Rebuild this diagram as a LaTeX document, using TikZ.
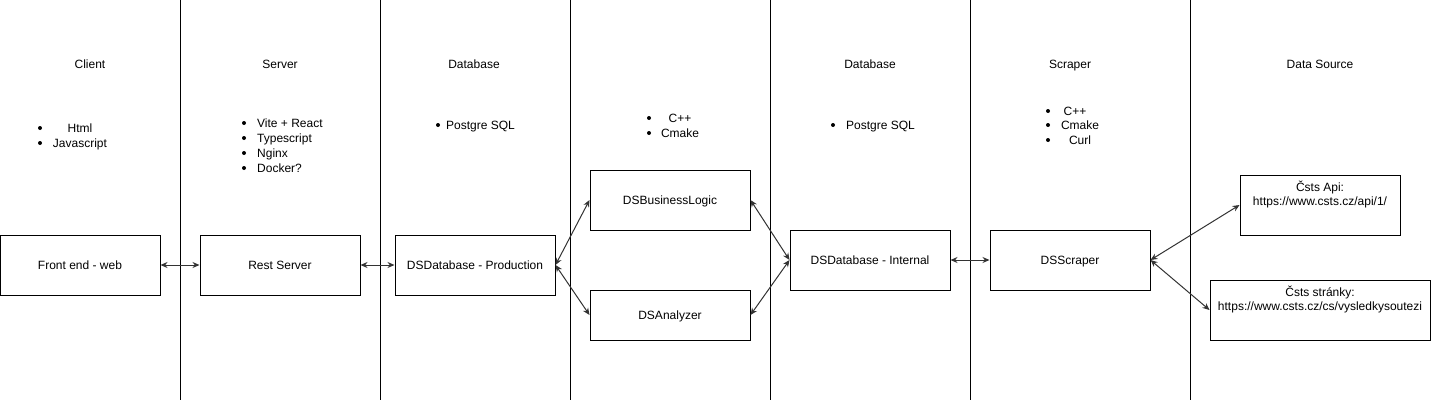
\documentclass[tikz,border=0pt]{standalone}
\usepackage{fontspec}
\setmainfont{Liberation Sans}
\usetikzlibrary{arrows.meta, positioning}
\definecolor{ds_line}{RGB}{51, 51, 51}

\tikzset{
  layer/.style={draw=black, line width=1pt, fill=white, minimum width=160pt,
                minimum height=60pt, inner sep=0pt, text height=8.6pt, text depth=0pt,
                font=\fontsize{12}{14}\selectfont},
  lane/.style={draw=black, line width=1pt},
  title/.style={font=\fontsize{12}{14}\selectfont, anchor=base, inner sep=0pt},
  tech/.style={font=\fontsize{12}{14}\selectfont, anchor=base, inner sep=0pt},
  techleft/.style={tech, anchor=base west},
  dot/.style={circle, fill=black, inner sep=0pt, minimum size=4pt},
  link/.style={{Stealth[length=7pt,width=6pt]}-{Stealth[length=7pt,width=6pt]},
               draw=ds_line, line width=1pt}
}

\begin{document}
\begin{tikzpicture}[x=1pt, y=-1pt]
  \useasboundingbox (0,0) rectangle (1431,402);

  % lanes
  \foreach \lx in {180, 380, 570, 770, 970, 1190}
    \draw[lane] (\lx,0) -- (\lx,400);

  % lane titles
  \node[title] (tclient) at (90,68) {Client};
  \node[title] (tserver) at (280,68) {Server};
  \node[title] (tproddb) at (474,68) {Database};
  \node[title] (tintdb) at (870,68) {Database};
  \node[title] (tscraper) at (1070,68) {Scraper};
  \node[title] (tsource) at (1320,68) {Data Source};

  % technologies
  \node[dot] (bc1) at (40,128) {};
  \node[tech] (html) at (80,132) {Html};
  \node[dot] (bc2) at (40,143) {};
  \node[tech] (js) at (80,147) {Javascript};

  \node[dot] (bs1) at (244,123) {};
  \node[techleft] (vite) at (257,127) {Vite + React};
  \node[dot] (bs2) at (244,138) {};
  \node[techleft] (ts) at (257,142) {Typescript};
  \node[dot] (bs3) at (244,153) {};
  \node[techleft] (nginx) at (257,157) {Nginx};
  \node[dot] (bs4) at (244,168) {};
  \node[techleft] (docker) at (257,172) {Docker?};

  \node[dot] (bp1) at (438,125) {};
  \node[techleft] (pgprod) at (446,129) {Postgre SQL};

  \node[dot] (bl1) at (649,118) {};
  \node[tech] (cpplogic) at (680,122) {C++};
  \node[dot] (bl2) at (649,133) {};
  \node[tech] (cmakelogic) at (680,137) {Cmake};

  \node[dot] (bi1) at (833,125) {};
  \node[techleft] (pgint) at (846,129) {Postgre SQL};

  \node[dot] (bk1) at (1048,111) {};
  \node[tech] (cppscr) at (1075,115) {C++};
  \node[dot] (bk2) at (1048,125) {};
  \node[tech] (cmakescr) at (1080,129) {Cmake};
  \node[dot] (bk3) at (1048,140) {};
  \node[tech] (curl) at (1080,144) {Curl};

  % components
  \node[layer] (frontend) at (80,265) {Front end - web};
  \node[layer] (rest) at (280,265) {Rest Server};
  \node[layer] (proddb) at (475,265) {DSDatabase - Production};
  \node[layer] (blogic) at (670,200) {DSBusinessLogic};
  \node[layer, minimum height=50pt] (analyzer) at (670,315) {DSAnalyzer};
  \node[layer] (intdb) at (870,260) {DSDatabase - Internal};
  \node[layer] (scraper) at (1070,260) {DSScraper};
  \node[layer, label={[anchor=north, align=center, inner sep=0pt,
        font=\fontsize{12}{14}\selectfont, yshift=-6pt]north:Čsts Api:\\https://www.csts.cz/api/1/}]
        (api) at (1320,205) {};
  \node[layer, minimum width=220pt, label={[anchor=north, align=center, inner sep=0pt,
        font=\fontsize{12}{14}\selectfont, yshift=-6pt]north:Čsts stránky:\\https://www.csts.cz/cs/vysledkysoutezi}]
        (web) at (1320,310) {};

  % connections
  \draw[link] (frontend) -- (rest);
  \draw[link] (rest) -- (proddb);
  \draw[link] (proddb.east) -- (blogic.west);
  \draw[link] (proddb.east) -- (analyzer.west);
  \draw[link] (blogic.east) -- (intdb.west);
  \draw[link] (analyzer.east) -- (intdb.west);
  \draw[link] (intdb) -- (scraper);
  \draw[link] (scraper.east) -- (api.west);
  \draw[link] (scraper.east) -- (web.west);
\end{tikzpicture}
\end{document}
